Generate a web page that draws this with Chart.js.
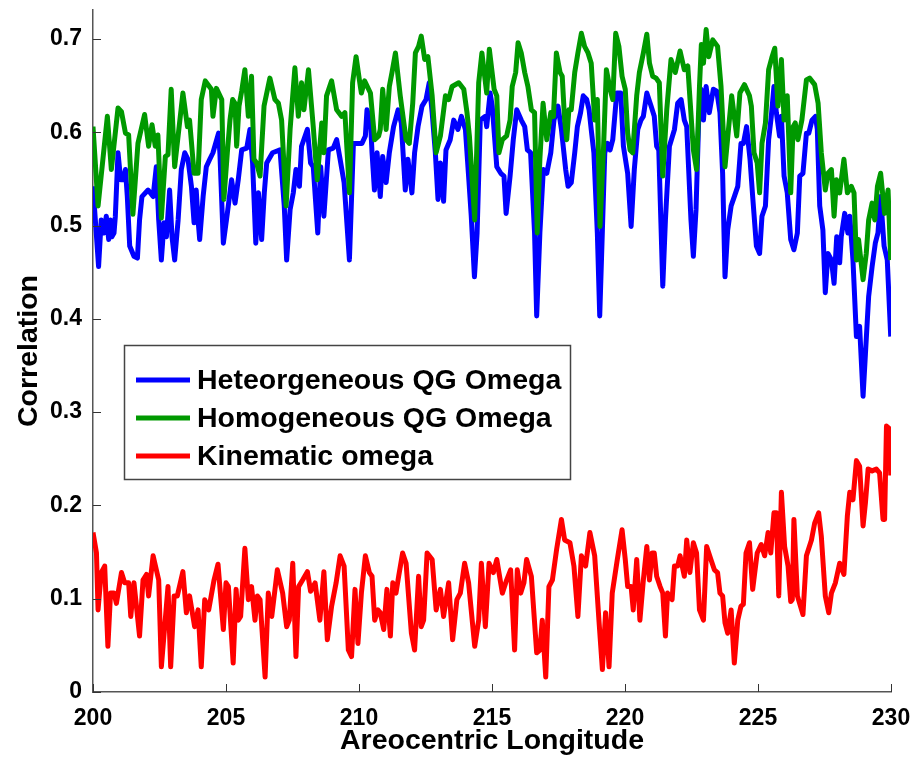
<html>

<head>
  <script src="https://cdn.jsdelivr.net/npm/chart.js@4.4.0/dist/chart.umd.min.js"></script>
  <style>
    body { margin: 0; background: #fff; }
  </style>
</head>

<body>
  <canvas id="myChart" width="920" height="783"></canvas>
</body>

<script>
  // Heteorgeneous QG Omega (blue)
  const heteroLon = [200.00, 200.21, 200.31, 200.41, 200.50, 200.59, 200.66, 200.71, 200.79, 200.84, 200.94, 201.04, 201.13, 201.22, 201.29, 201.38, 201.54, 201.67, 201.75, 201.84, 202.07, 202.26, 202.38, 202.47, 202.57, 202.67, 202.76, 202.88, 202.97, 203.07, 203.20, 203.32, 203.45, 203.57, 203.70, 203.80, 203.88, 203.95, 204.01, 204.14, 204.26, 204.39, 204.51, 204.72,
    204.77, 204.90, 205.05, 205.21, 205.34, 205.46, 205.59, 205.78, 205.90, 206.00, 206.12, 206.22, 206.34, 206.44, 206.53, 206.75, 207.03, 207.19, 207.28, 207.41, 207.53, 207.63, 207.76, 207.84, 208.06, 208.18, 208.28, 208.45, 208.56, 208.68, 208.85, 209.03, 209.16, 209.29, 209.44, 209.64, 209.79,
    209.86, 210.11, 210.24, 210.30, 210.43, 210.49, 210.58, 210.68, 210.80, 210.89, 211.02, 211.14, 211.30, 211.47, 211.59, 211.74, 211.84, 211.99, 212.09, 212.22, 212.37, 212.52, 212.64, 212.75, 212.87, 212.97, 213.06, 213.18, 213.27, 213.43, 213.56, 213.72, 213.85, 214.00, 214.12, 214.22, 214.34, 214.44, 214.56, 214.75,
    214.80, 214.93, 215.01, 215.18, 215.33, 215.45, 215.53, 215.68, 215.80, 215.93, 216.10, 216.23, 216.33, 216.45, 216.60, 216.68, 216.80, 216.93, 217.06, 217.21, 217.33, 217.48, 217.61, 217.77, 217.86, 217.98, 218.11, 218.21, 218.33, 218.43, 218.56, 218.65, 218.73, 218.83, 218.96, 219.05, 219.15, 219.24, 219.34, 219.44, 219.54, 219.69, 219.84,
    219.94, 220.10, 220.23, 220.35, 220.48, 220.60, 220.69, 220.82, 220.98, 221.10, 221.19, 221.27, 221.35, 221.42, 221.52, 221.67, 221.86, 221.98, 222.11, 222.23, 222.32, 222.48, 222.57, 222.67, 222.77, 222.86, 222.95, 223.05, 223.17, 223.32, 223.45, 223.57, 223.67, 223.76, 223.86, 223.99, 224.11, 224.24, 224.36, 224.45, 224.57, 224.70, 224.80,
    224.94, 225.06, 225.15, 225.28, 225.40, 225.50, 225.60, 225.69, 225.81, 225.88, 225.98, 226.10, 226.23, 226.35, 226.48, 226.57, 226.69, 226.82, 226.91, 227.03, 227.16, 227.23, 227.32, 227.44, 227.53, 227.63, 227.76, 227.86, 227.96, 228.07, 228.13, 228.26, 228.38, 228.45, 228.57, 228.70, 228.82, 228.95, 229.04, 229.16, 229.29, 229.41, 229.51, 229.61, 229.74, 229.86, 229.99];
  const heteroCorr = [0.542, 0.456, 0.506, 0.492, 0.510, 0.485, 0.506, 0.488, 0.492, 0.510, 0.578, 0.549, 0.549, 0.560, 0.531, 0.478, 0.467, 0.465, 0.506, 0.531, 0.538, 0.531, 0.563, 0.506, 0.463, 0.503, 0.488, 0.538, 0.488, 0.463, 0.506, 0.560, 0.578, 0.571, 0.542, 0.503, 0.538, 0.506, 0.485, 0.531, 0.563, 0.571, 0.578, 0.599,
    0.578, 0.481, 0.513, 0.549, 0.524, 0.549, 0.581, 0.583, 0.603, 0.567, 0.481, 0.535, 0.485, 0.535, 0.567, 0.578, 0.581, 0.521, 0.463, 0.517, 0.535, 0.560, 0.542, 0.585, 0.603, 0.567, 0.563, 0.492, 0.563, 0.510, 0.581, 0.583, 0.592, 0.571, 0.546, 0.463, 0.588,
    0.588, 0.588, 0.596, 0.624, 0.613, 0.578, 0.538, 0.578, 0.531, 0.574, 0.546, 0.578, 0.606, 0.624, 0.610, 0.538, 0.571, 0.535, 0.578, 0.606, 0.628, 0.635, 0.653, 0.621, 0.578, 0.528, 0.567, 0.526, 0.581, 0.592, 0.613, 0.603, 0.617, 0.603, 0.553, 0.510, 0.445, 0.492, 0.613, 0.617,
    0.606, 0.642, 0.628, 0.563, 0.556, 0.553, 0.513, 0.553, 0.592, 0.624, 0.613, 0.606, 0.581, 0.578, 0.492, 0.403, 0.492, 0.560, 0.556, 0.578, 0.613, 0.628, 0.603, 0.560, 0.542, 0.546, 0.578, 0.606, 0.621, 0.639, 0.635, 0.624, 0.603, 0.578, 0.492, 0.403, 0.495, 0.578, 0.588, 0.581, 0.592, 0.642, 0.642,
    0.585, 0.556, 0.499, 0.560, 0.603, 0.613, 0.617, 0.642, 0.628, 0.617, 0.585, 0.581, 0.503, 0.435, 0.506, 0.585, 0.603, 0.631, 0.635, 0.613, 0.606, 0.506, 0.467, 0.517, 0.613, 0.646, 0.613, 0.649, 0.621, 0.646, 0.644, 0.621, 0.556, 0.445, 0.495, 0.521, 0.531, 0.542, 0.588, 0.588, 0.606, 0.571, 0.531,
    0.478, 0.470, 0.510, 0.521, 0.592, 0.617, 0.649, 0.621, 0.596, 0.617, 0.553, 0.535, 0.485, 0.474, 0.492, 0.553, 0.556, 0.599, 0.599, 0.613, 0.617, 0.603, 0.521, 0.495, 0.428, 0.470, 0.463, 0.438, 0.488, 0.460, 0.488, 0.513, 0.492, 0.510, 0.463, 0.381, 0.392, 0.317, 0.363, 0.424, 0.456, 0.481, 0.492, 0.531, 0.478, 0.463, 0.381];

  // Homogeneous QG Omega (green)
  const homoLon = [200.00, 200.19, 200.54, 200.69, 200.94, 201.07, 201.22, 201.34, 201.50, 201.69, 201.94, 202.09, 202.22, 202.34, 202.44, 202.57, 202.72, 202.82, 202.94, 203.07, 203.38, 203.55, 203.63, 203.80, 203.95, 204.07, 204.22, 204.45, 204.51, 204.64,
    204.84, 204.92, 205.05, 205.15, 205.25, 205.34, 205.40, 205.49, 205.59, 205.71, 205.84, 205.96, 206.05, 206.15, 206.28, 206.43, 206.65, 206.84, 206.97, 207.09, 207.26, 207.41, 207.59, 207.72, 207.84, 207.93, 208.10, 208.28, 208.43, 208.60, 208.68, 208.78, 208.97, 209.16, 209.35, 209.47, 209.64, 209.76,
    209.89, 210.05, 210.09, 210.21, 210.43, 210.59, 210.74, 210.80, 210.89, 211.02, 211.14, 211.24, 211.37, 211.55, 211.77, 211.89, 212.02, 212.12, 212.24, 212.34, 212.47, 212.59, 212.75, 212.90, 213.06, 213.25, 213.37, 213.50, 213.75, 213.94, 214.06, 214.15, 214.35, 214.50, 214.62,
    214.80, 214.90, 215.08, 215.18, 215.26, 215.39, 215.55, 215.68, 215.76, 215.89, 215.98, 216.10, 216.23, 216.35, 216.48, 216.60, 216.70, 216.80, 216.92, 217.06, 217.21, 217.31, 217.42, 217.56, 217.64, 217.73, 217.81, 217.89, 217.98, 218.11, 218.23, 218.36, 218.48, 218.61, 218.73, 218.86, 218.96, 219.06, 219.19, 219.30, 219.44, 219.54, 219.65, 219.77,
    219.89, 220.01, 220.10, 220.19, 220.29, 220.44, 220.54, 220.69, 220.82, 220.92, 221.04, 221.17, 221.29, 221.42, 221.57, 221.73, 221.89, 222.07, 222.23, 222.36, 222.57, 222.69, 222.80, 222.87, 222.95, 223.05, 223.15, 223.30, 223.48, 223.61, 223.76, 223.89, 224.01, 224.20, 224.32, 224.49, 224.68,
    224.75, 224.85, 224.97, 225.06, 225.15, 225.28, 225.40, 225.53, 225.63, 225.75, 225.88, 225.98, 226.10, 226.23, 226.32, 226.40, 226.50, 226.65, 226.82, 226.94, 227.13, 227.26, 227.38, 227.53, 227.63, 227.76, 227.86, 227.95, 228.07, 228.23, 228.36, 228.51, 228.61, 228.70, 228.78, 228.95, 229.07, 229.16, 229.29, 229.39, 229.49, 229.61, 229.76, 229.89, 229.99];
  const homoCorr = [0.606, 0.521, 0.617, 0.560, 0.626, 0.622, 0.599, 0.597, 0.512, 0.588, 0.619, 0.585, 0.608, 0.585, 0.597, 0.508, 0.574, 0.576, 0.646, 0.563, 0.642, 0.606, 0.613, 0.556, 0.556, 0.635, 0.655, 0.646, 0.617, 0.647,
    0.635, 0.528, 0.578, 0.613, 0.635, 0.631, 0.585, 0.628, 0.644, 0.667, 0.617, 0.660, 0.571, 0.567, 0.553, 0.628, 0.658, 0.635, 0.631, 0.613, 0.521, 0.603, 0.669, 0.617, 0.653, 0.624, 0.667, 0.606, 0.549, 0.610, 0.578, 0.639, 0.655, 0.624, 0.617, 0.621, 0.535, 0.653,
    0.681, 0.649, 0.642, 0.655, 0.642, 0.592, 0.596, 0.603, 0.646, 0.603, 0.649, 0.664, 0.685, 0.639, 0.592, 0.588, 0.631, 0.685, 0.692, 0.703, 0.678, 0.681, 0.639, 0.578, 0.596, 0.639, 0.635, 0.649, 0.653, 0.646, 0.621, 0.596, 0.506, 0.653, 0.685,
    0.642, 0.689, 0.646, 0.639, 0.578, 0.592, 0.596, 0.613, 0.649, 0.664, 0.696, 0.685, 0.664, 0.649, 0.624, 0.621, 0.492, 0.571, 0.631, 0.592, 0.621, 0.617, 0.685, 0.664, 0.660, 0.613, 0.592, 0.624, 0.624, 0.664, 0.685, 0.706, 0.692, 0.685, 0.674, 0.613, 0.635, 0.499, 0.581, 0.667, 0.646, 0.635, 0.706, 0.692,
    0.660, 0.646, 0.599, 0.581, 0.578, 0.639, 0.664, 0.685, 0.705, 0.674, 0.660, 0.658, 0.653, 0.553, 0.624, 0.678, 0.664, 0.687, 0.667, 0.671, 0.581, 0.560, 0.649, 0.694, 0.674, 0.710, 0.681, 0.699, 0.692, 0.649, 0.563, 0.603, 0.639, 0.596, 0.642, 0.651, 0.639,
    0.628, 0.578, 0.567, 0.535, 0.588, 0.610, 0.667, 0.681, 0.690, 0.628, 0.678, 0.613, 0.639, 0.535, 0.606, 0.610, 0.592, 0.613, 0.656, 0.658, 0.651, 0.631, 0.578, 0.538, 0.556, 0.560, 0.510, 0.549, 0.535, 0.571, 0.535, 0.542, 0.535, 0.463, 0.485, 0.442, 0.470, 0.506, 0.524, 0.506, 0.542, 0.556, 0.513, 0.538, 0.463];

  // Kinematic omega (red)
  const kinLon = [200.00, 200.13, 200.19, 200.31, 200.44, 200.56, 200.66, 200.79, 200.88, 201.07, 201.19, 201.34, 201.42, 201.54, 201.75, 201.88, 202.01, 202.09, 202.26, 202.47, 202.57, 202.82, 202.92, 203.05, 203.17, 203.38, 203.51, 203.63, 203.82, 203.95, 204.07, 204.20, 204.35, 204.55, 204.70,
    204.90, 205.00, 205.09, 205.27, 205.38, 205.46, 205.55, 205.71, 205.84, 205.96, 206.09, 206.18, 206.28, 206.47, 206.59, 206.72, 206.93, 207.13, 207.28, 207.38, 207.51, 207.63, 207.73, 207.88, 208.06, 208.18, 208.35, 208.53, 208.68, 208.81, 208.97, 209.14, 209.29, 209.44, 209.60, 209.72, 209.85,
    209.96, 210.09, 210.24, 210.39, 210.49, 210.59, 210.71, 210.80, 210.93, 211.05, 211.18, 211.27, 211.39, 211.49, 211.64, 211.77, 211.97, 212.09, 212.24, 212.34, 212.43, 212.56, 212.75, 212.90, 213.06, 213.18, 213.37, 213.52, 213.68, 213.81, 213.97, 214.12, 214.35, 214.50, 214.60, 214.75,
    214.89, 215.05, 215.18, 215.39, 215.55, 215.70, 215.85, 215.95, 216.08, 216.20, 216.30, 216.48, 216.68, 216.80, 216.89, 217.02, 217.14, 217.27, 217.43, 217.61, 217.73, 217.93, 218.08, 218.23, 218.36, 218.52, 218.68, 218.86, 219.02, 219.15, 219.27, 219.40, 219.52, 219.71,
    219.89, 220.01, 220.10, 220.23, 220.31, 220.44, 220.56, 220.69, 220.82, 220.92, 221.02, 221.10, 221.19, 221.32, 221.42, 221.52, 221.60, 221.77, 221.86, 221.98, 222.07, 222.23, 222.32, 222.44, 222.57, 222.69, 222.80, 222.95, 223.07, 223.23, 223.36, 223.48, 223.57, 223.67, 223.76, 223.86, 223.99, 224.11, 224.24, 224.36, 224.45, 224.55, 224.68, 224.80,
    224.97, 225.12, 225.25, 225.38, 225.48, 225.60, 225.69, 225.78, 225.88, 226.00, 226.13, 226.23, 226.29, 226.35, 226.48, 226.69, 226.82, 227.01, 227.13, 227.28, 227.38, 227.53, 227.66, 227.76, 227.91, 228.07, 228.23, 228.36, 228.45, 228.57, 228.70, 228.82, 228.95, 229.04, 229.14, 229.29, 229.45, 229.57, 229.70, 229.76, 229.83, 229.95, 229.99];
  const kinCorr = [0.171, 0.149, 0.088, 0.128, 0.135, 0.049, 0.106, 0.106, 0.095, 0.128, 0.117, 0.117, 0.081, 0.117, 0.060, 0.120, 0.126, 0.103, 0.146, 0.120, 0.027, 0.113, 0.027, 0.103, 0.103, 0.129, 0.085, 0.103, 0.070, 0.088, 0.027, 0.099, 0.088, 0.120, 0.137,
    0.067, 0.117, 0.113, 0.031, 0.110, 0.077, 0.081, 0.154, 0.099, 0.113, 0.077, 0.103, 0.099, 0.016, 0.106, 0.081, 0.131, 0.106, 0.070, 0.077, 0.138, 0.038, 0.113, 0.120, 0.129, 0.108, 0.117, 0.077, 0.129, 0.056, 0.092, 0.117, 0.146, 0.135, 0.045, 0.038, 0.110,
    0.052, 0.106, 0.146, 0.128, 0.124, 0.077, 0.088, 0.085, 0.067, 0.110, 0.060, 0.117, 0.106, 0.124, 0.149, 0.138, 0.063, 0.045, 0.124, 0.070, 0.077, 0.149, 0.142, 0.088, 0.110, 0.081, 0.117, 0.056, 0.099, 0.106, 0.138, 0.117, 0.049, 0.077, 0.138, 0.070,
    0.138, 0.128, 0.142, 0.106, 0.120, 0.131, 0.045, 0.131, 0.106, 0.117, 0.142, 0.124, 0.042, 0.045, 0.077, 0.016, 0.113, 0.120, 0.153, 0.185, 0.163, 0.160, 0.135, 0.081, 0.146, 0.135, 0.171, 0.146, 0.077, 0.024, 0.085, 0.027, 0.106, 0.142,
    0.174, 0.142, 0.113, 0.113, 0.088, 0.142, 0.077, 0.120, 0.156, 0.120, 0.149, 0.149, 0.124, 0.113, 0.106, 0.060, 0.106, 0.099, 0.135, 0.135, 0.146, 0.124, 0.163, 0.128, 0.160, 0.149, 0.088, 0.077, 0.156, 0.142, 0.131, 0.128, 0.106, 0.103, 0.074, 0.063, 0.088, 0.031, 0.077, 0.092, 0.094, 0.149, 0.160, 0.110,
    0.149, 0.158, 0.146, 0.171, 0.149, 0.192, 0.192, 0.103, 0.214, 0.156, 0.135, 0.097, 0.099, 0.185, 0.103, 0.083, 0.146, 0.163, 0.181, 0.192, 0.167, 0.103, 0.085, 0.106, 0.117, 0.138, 0.126, 0.189, 0.214, 0.206, 0.248, 0.242, 0.178, 0.203, 0.239, 0.237, 0.239, 0.235, 0.185, 0.185, 0.285, 0.282, 0.232];

  const legendNames = ['Heteorgeneous QG Omega', 'Homogeneous QG Omega', 'Kinematic omega'];
  const xTicks = [200, 205, 210, 215, 220, 225, 230];
  const yTicks = [0, 0.1, 0.2, 0.3, 0.4, 0.5, 0.6, 0.7];

  const FONT = '"Liberation Sans", Arial, Helvetica, sans-serif';

  const toPoints = (xs, ys) => xs.map((v, i) => ({ x: v, y: ys[i] }));

  // MATLAB style ticks pointing into the axes
  const insideTicks = {
    id: 'insideTicks',
    afterDatasetsDraw(chart) {
      const { ctx, chartArea: a, scales: { x, y } } = chart;
      ctx.save();
      ctx.strokeStyle = '#333';
      ctx.lineWidth = 1;
      ctx.beginPath();
      xTicks.forEach(v => {
        const px = Math.round(x.getPixelForValue(v)) + 0.5;
        ctx.moveTo(px, a.bottom);
        ctx.lineTo(px, a.bottom - 8);
      });
      yTicks.forEach(v => {
        const py = Math.round(y.getPixelForValue(v)) + 0.5;
        ctx.moveTo(a.left, py);
        ctx.lineTo(a.left + 8, py);
      });
      ctx.stroke();
      ctx.restore();
    }
  };

  // boxed legend inside the plot
  const boxLegend = {
    id: 'boxLegend',
    afterDraw(chart) {
      const ctx = chart.ctx;
      ctx.save();
      ctx.fillStyle = '#fff';
      ctx.fillRect(124, 345, 447, 135);
      ctx.strokeStyle = '#444';
      ctx.lineWidth = 1.5;
      ctx.strokeRect(124.5, 345.5, 446, 134);
      ctx.font = 'bold 28.5px ' + FONT;
      ctx.textBaseline = 'middle';
      legendNames.forEach((name, i) => {
        const yy = 380 + i * 38;
        ctx.strokeStyle = chart.data.datasets[i].borderColor;
        ctx.lineWidth = 5;
        ctx.beginPath();
        ctx.moveTo(136, yy);
        ctx.lineTo(190, yy);
        ctx.stroke();
        ctx.fillStyle = '#000';
        ctx.fillText(name, 197, yy + 1);
      });
      ctx.restore();
    }
  };

  const lineStyle = { borderWidth: 5, pointRadius: 0, tension: 0, fill: false, borderJoinStyle: 'round' };

  const ctx = document.getElementById('myChart').getContext('2d');
  const chart = new Chart(ctx, {
    type: 'line',
    data: {
      datasets: [
        Object.assign({ label: legendNames[0], data: toPoints(heteroLon, heteroCorr), borderColor: '#0000ff', order: 2 }, lineStyle),
        Object.assign({ label: legendNames[1], data: toPoints(homoLon, homoCorr), borderColor: '#009900', order: 1 }, lineStyle),
        Object.assign({ label: legendNames[2], data: toPoints(kinLon, kinCorr), borderColor: '#ff0000', order: 3 }, lineStyle)
      ]
    },
    plugins: [insideTicks, boxLegend],
    options: {
      responsive: false,
      animation: false,
      layout: { padding: { top: 10, right: 29, left: 0, bottom: 0 } },
      plugins: { legend: { display: false }, tooltip: { enabled: false } },
      scales: {
        x: {
          type: 'linear',
          min: 200,
          max: 230,
          afterFit: s => { s.height = 91; s.paddingLeft = 0; s.paddingRight = 0; },
          afterBuildTicks: s => { s.ticks = xTicks.map(v => ({ value: v })); },
          grid: { display: false, drawTicks: false },
          border: { display: true, color: '#555', width: 1.5 },
          ticks: { color: '#000', padding: 13, font: { family: FONT, size: 23, weight: 'bold' } },
          title: { display: true, text: 'Areocentric Longitude', color: '#000', padding: { top: 0, bottom: 25 }, font: { family: FONT, size: 28.5, weight: 'bold' } }
        },
        y: {
          min: 0,
          max: 0.731,
          afterFit: s => { s.width = 93; s.paddingTop = 0; s.paddingBottom = 0; },
          afterBuildTicks: s => { s.ticks = yTicks.map(v => ({ value: v })); },
          grid: { display: false, drawTicks: false },
          border: { display: true, color: '#555', width: 1.5 },
          ticks: { color: '#000', padding: 11, font: { family: FONT, size: 23, weight: 'bold' }, callback: v => (v === 0 ? '0' : v.toFixed(1)) },
          title: { display: true, text: 'Correlation', color: '#000', padding: { top: 12, bottom: 0 }, font: { family: FONT, size: 28.5, weight: 'bold' } }
        }
      }
    }
  });
</script>

</html>
